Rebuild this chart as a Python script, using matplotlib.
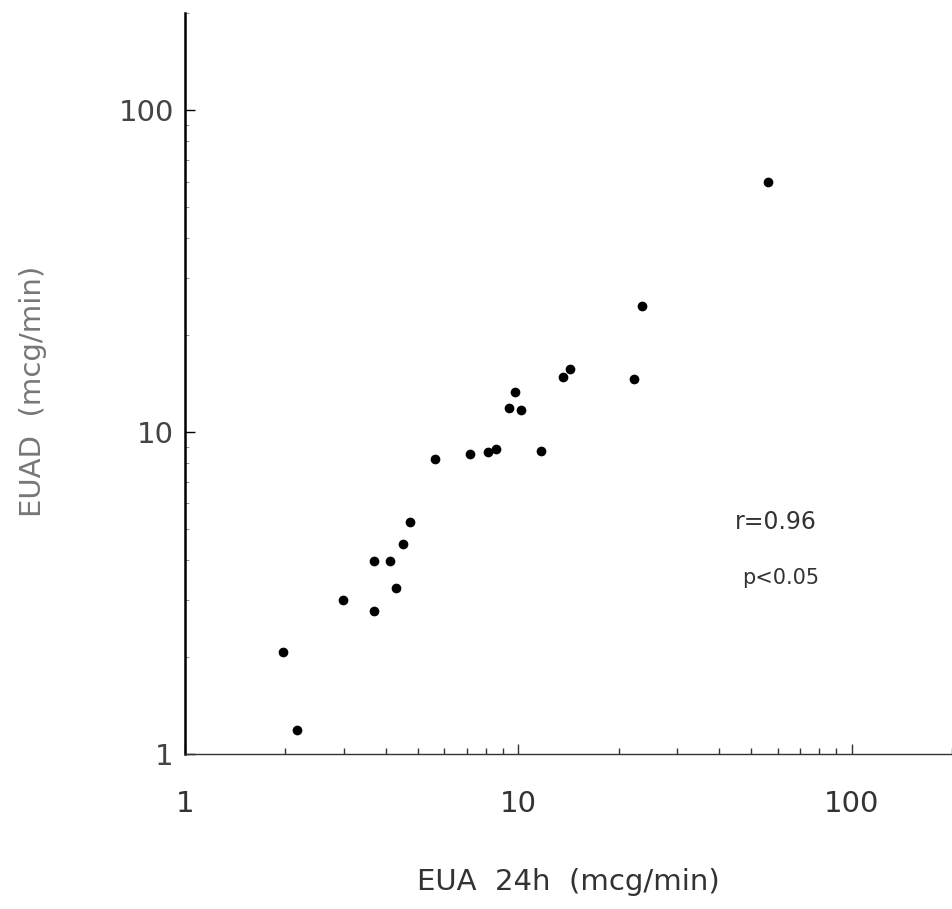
import matplotlib
matplotlib.use('Agg')
import matplotlib.pyplot as plt
from matplotlib.ticker import LogLocator, NullFormatter, FixedLocator, FixedFormatter

# EUA 24h vs EUAD, both in mcg/min
eua_24h = [1.97, 2.17, 2.97, 3.69, 3.68, 4.11, 4.29, 4.52, 4.72, 5.64, 7.18,
           8.13, 8.55, 9.35, 9.79, 10.2, 11.7, 13.6, 14.3, 22.3, 23.5, 56.2]
euad = [2.07, 1.19, 3.00, 3.98, 2.79, 3.98, 3.29, 4.48, 5.26, 8.25, 8.56,
        8.68, 8.87, 11.9, 13.3, 11.7, 8.73, 14.8, 15.7, 14.6, 24.6, 59.7]

decades = [1, 10, 100]
decade_labels = ['1', '10', '100']
stats_lines = ['r=0.96', 'p<0.05']

plt.rcParams['font.family'] = ['DejaVu Sans']
fig = plt.figure(figsize=(9.52, 9.09), dpi=100)
ax = fig.add_axes([0.1943, 0.1705, 0.8057, 0.815])

ax.plot(eua_24h, euad, 'o', color='black', markersize=7, markeredgewidth=0)

ax.set_xscale('log')
ax.set_yscale('log')
ax.set_xlim(1, 200)
ax.set_ylim(1, 200)

ax.spines['top'].set_visible(False)
ax.spines['right'].set_visible(False)
ax.spines['left'].set_linewidth(1.8)
ax.spines['bottom'].set_linewidth(1.0)
ax.spines['bottom'].set_color('#333333')

ax.xaxis.set_major_locator(FixedLocator(decades))
ax.xaxis.set_major_formatter(FixedFormatter(decade_labels))
ax.yaxis.set_major_locator(FixedLocator(decades))
ax.yaxis.set_major_formatter(FixedFormatter(decade_labels))
ax.xaxis.set_minor_locator(LogLocator(base=10, subs=range(2, 10)))
ax.yaxis.set_minor_locator(LogLocator(base=10, subs=range(2, 10)))
ax.xaxis.set_minor_formatter(NullFormatter())
ax.yaxis.set_minor_formatter(NullFormatter())

ax.tick_params(axis='x', which='major', direction='in', length=7, width=1,
               pad=26, labelsize=21, labelcolor='#333333', color='#333333')
ax.tick_params(axis='x', which='minor', direction='in', length=4, width=1,
               color='#333333')
ax.tick_params(axis='y', which='major', direction='in', length=7, width=1,
               pad=8, labelsize=21, labelcolor='#444444')
ax.tick_params(axis='y', which='minor', direction='in', length=3, width=0.8,
               color='#999999')

ax.set_xlabel('EUA  24h  (mcg/min)', fontsize=21, color='#333333', labelpad=36)
ax.set_ylabel('EUAD  (mcg/min)', fontsize=21, color='#777777')
ax.yaxis.set_label_coords(-0.18, 0.49)

ax.text(0.717, 0.313, stats_lines[0], transform=ax.transAxes, fontsize=17,
        color='#333333', ha='left', va='center')
ax.text(0.727, 0.2375, stats_lines[1], transform=ax.transAxes, fontsize=15,
        color='#333333', ha='left', va='center')

fig.savefig('out.png', dpi=100)
